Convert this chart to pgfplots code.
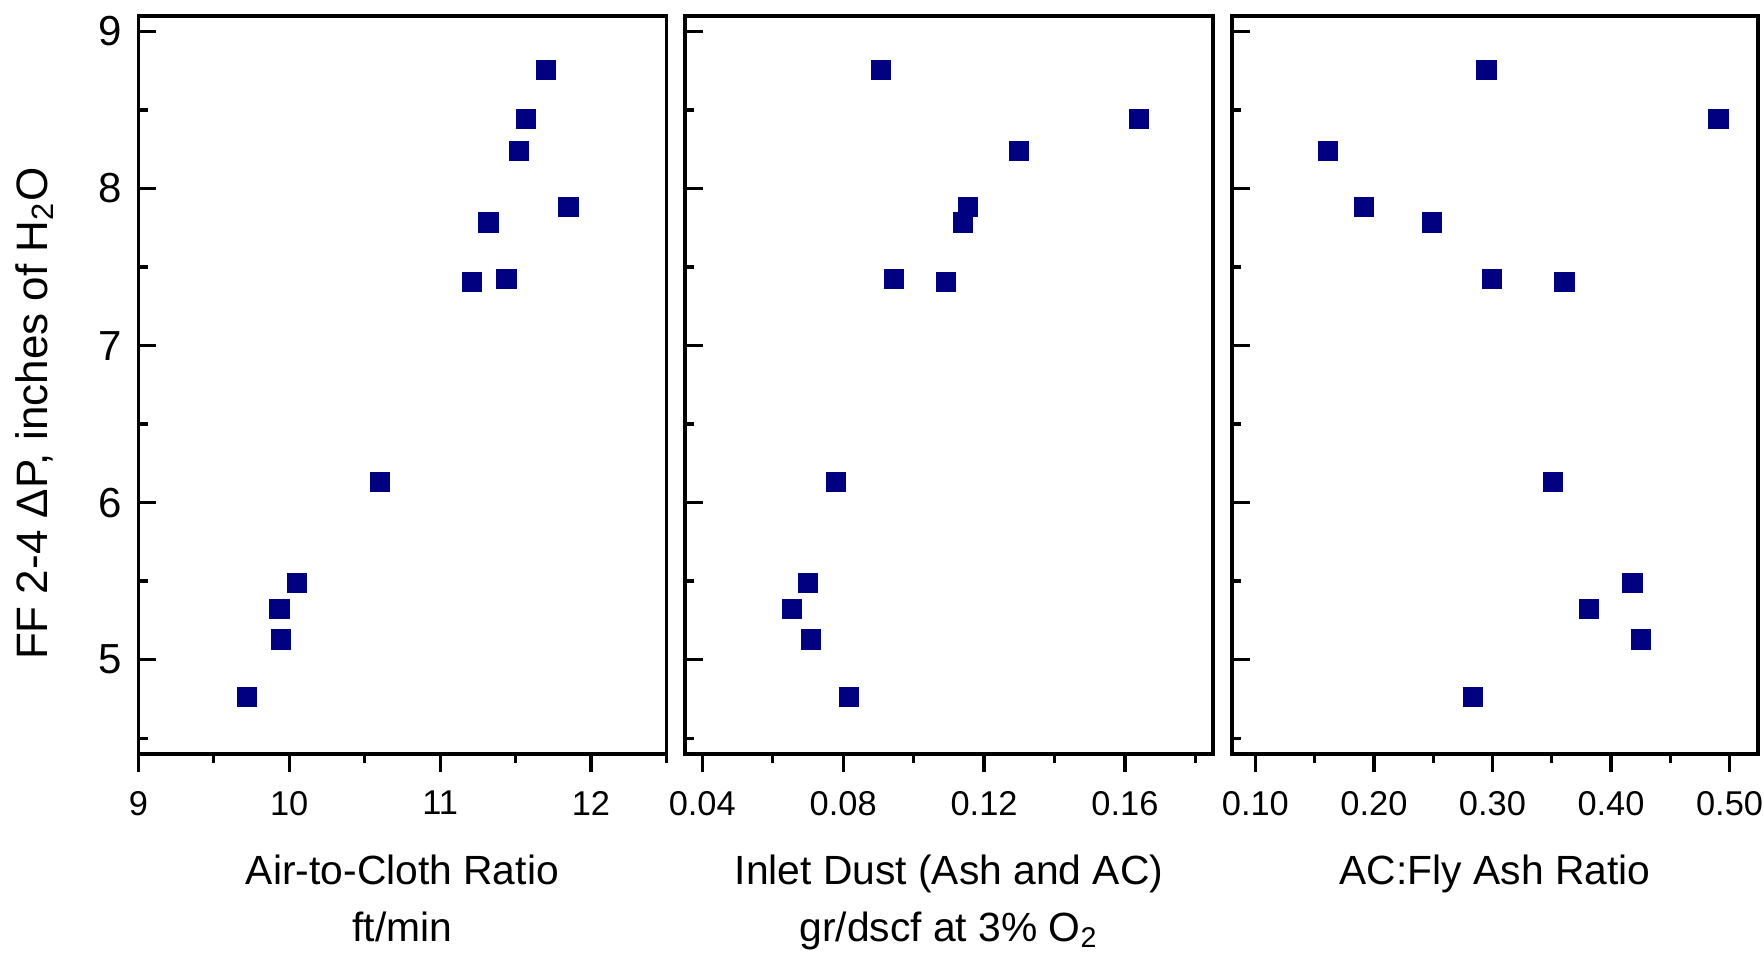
\documentclass[border=0pt]{standalone}
\usepackage{fontspec}
\setmainfont{Liberation Sans}
\usepackage{pgfplots}
\pgfplotsset{compat=1.18}
\definecolor{mk}{RGB}{0,0,128}
\pgfplotsset{
 panel/.style={
  scale only axis, width=132pt, height=184.5pt,
  anchor=south west,
  ymin=4.4, ymax=9.1,
  ytick={5,6,7,8,9},
  minor ytick={4.5,5.5,6.5,7.5,8.5},
  xtick pos=bottom, ytick pos=left,
  tick align=inside,
  major tick length=4.5pt, minor tick length=2.3pt,
  major x tick style={yshift=-4.5pt}, minor x tick style={yshift=-2.3pt},
  tick style={black, line width=0.8pt},
  axis line style={line width=0.9pt},
  xticklabel style={font=\fontsize{8.6}{10}\selectfont, yshift=-5.8pt},
  yticklabel style={font=\fontsize{10.5}{12}\selectfont, xshift=-0.7pt},
  xlabel style={at={(axis description cs:0.5,-0.118)}, anchor=north, align=center, font=\fontsize{10.2}{14.25}\selectfont},
  clip=false,
 },
 pts/.style={only marks, mark=square*, mark size=2.4pt, mark options={fill=mk, draw=mk, line width=0.2pt}}
}
\begin{document}
\begin{tikzpicture}
\useasboundingbox (0,0) rectangle (441pt,239.25pt);
% Panel 1
\begin{axis}[panel, at={(34.6pt,50.8pt)},
  xmin=9, xmax=12.5,
  xtick={9,10,11,12}, xticklabels={9,10,11,12},
  minor xtick={9.5,10.5,11.5,12.5},
  yticklabels={5,6,7,8,9},
  xlabel={Air-to-Cloth Ratio\\ft/min},
  ylabel={FF 2-4 ΔP, inches of H\textsubscript{2}O},
  ylabel style={at={(axis description cs:-0.173,0.461)}, anchor=base, font=\fontsize{11}{13}\selectfont},
]
\addplot[pts] coordinates {
(11.70,8.757) (11.57,8.442) (11.52,8.241) (11.85,7.884) (11.32,7.784) (11.21,7.404)
(11.44,7.426) (10.60,6.131) (10.05,5.487) (9.935,5.322) (9.943,5.129) (9.72,4.764)
};
\end{axis}
% Panel 2
\begin{axis}[panel, at={(171.25pt,50.8pt)},
  xmin=0.0351, xmax=0.185,
  xtick={0.04,0.08,0.12,0.16}, xticklabels={0.04,0.08,0.12,0.16},
  minor xtick={0.06,0.10,0.14,0.18},
  yticklabels={},
  xlabel={Inlet Dust (Ash and AC)\\gr/dscf at 3\% O\textsubscript{2}},
]
\addplot[pts] coordinates {
(0.0907,8.757) (0.1639,8.442) (0.1300,8.241) (0.1153,7.884) (0.1141,7.784) (0.0945,7.426)
(0.1092,7.404) (0.0779,6.131) (0.0699,5.487) (0.0654,5.322) (0.0709,5.129) (0.0817,4.764)
};
\end{axis}
% Panel 3
\begin{axis}[panel, at={(308pt,50.8pt)}, width=131.5pt,
  xmin=0.0803, xmax=0.524,
  xtick={0.1,0.2,0.3,0.4,0.5}, xticklabels={0.10,0.20,0.30,0.40,0.50},
  minor xtick={0.15,0.25,0.35,0.45},
  yticklabels={},
  xlabel={AC:Fly Ash Ratio},
]
\addplot[pts] coordinates {
(0.2948,8.757) (0.4905,8.442) (0.1611,8.241) (0.1916,7.884) (0.2489,7.784) (0.2995,7.426)
(0.3606,7.404) (0.351,6.131) (0.418,5.487) (0.3816,5.322) (0.4255,5.129) (0.2833,4.764)
};
\end{axis}
\end{tikzpicture}
\end{document}
